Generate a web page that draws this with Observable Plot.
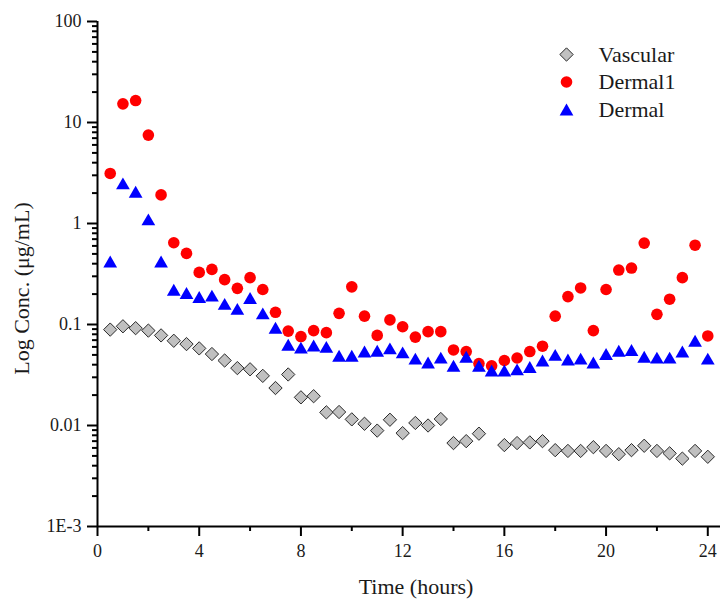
<!DOCTYPE html>
<html><head><meta charset="utf-8">
<script src="https://cdn.jsdelivr.net/npm/d3@7"></script>
<script src="https://cdn.jsdelivr.net/npm/@observablehq/plot@0.6"></script>
<style>body{margin:0;background:#fff} #chart{width:722px;height:599px}</style>
</head><body><div id="chart"></div>
<script>
const hours = [0.5,1,1.5,2,2.5,3,3.5,4,4.5,5,5.5,6,6.5,7,7.5,8,8.5,9,9.5,10,10.5,11,11.5,12,
               12.5,13,13.5,14,14.5,15,15.5,16,16.5,17,17.5,18,18.5,19,19.5,20,20.5,21,21.5,22,22.5,23,23.5,24];
const vascular = [0.089,0.096,0.092,0.087,0.078,0.069,0.064,0.058,0.051,0.044,0.037,0.036,0.031,0.0235,0.032,0.019,0.0195,0.0135,0.0136,0.0115,0.0104,0.0089,0.0114,0.0084,
                  0.0106,0.0100,0.0116,0.0067,0.0070,0.0083,null,0.0064,0.0067,0.0068,0.0070,0.0057,0.0056,0.0056,0.0061,0.0056,0.0052,0.0057,0.0063,0.0056,0.0053,0.0047,0.0056,0.0049];
const dermal1 = [3.13,15.3,16.5,7.5,1.92,0.645,0.506,0.328,0.351,0.278,0.228,0.291,0.222,0.132,0.086,0.076,0.087,0.083,0.129,0.236,0.121,0.078,0.111,0.095,
                 0.075,0.085,0.085,0.056,0.054,0.041,0.039,0.044,0.0466,0.054,0.061,0.121,0.189,0.230,0.087,0.222,0.346,0.362,0.64,0.126,0.178,0.291,0.61,0.077];
const dermal = [0.42,2.5,2.06,1.1,0.42,0.221,0.205,0.187,0.193,0.160,0.143,0.183,0.129,0.093,0.063,0.059,0.062,0.060,0.049,0.049,0.054,0.055,0.058,0.053,
                0.046,0.042,0.047,0.039,0.048,0.039,0.035,0.035,0.036,0.038,0.044,0.050,0.045,0.046,0.042,0.051,0.055,0.056,0.048,0.047,0.047,0.054,0.069,0.046];
const seriesNames = ["Vascular","Dermal1","Dermal"];
const xTicks = [0,4,8,12,16,20,24];
const xMinorTicks = [2,6,10,14,18,22];
const yTicks = [0.001,0.01,0.1,1,10,100];
const yTickLabels = ["1E-3","0.01","0.1","1","10","100"];
const xLabel = "Time (hours)";
const yLabel = "Log Conc. (\u03bcg/mL)";

const yMinorTicks = d3.scaleLog().domain([0.001,100]).ticks().filter(v => !yTicks.some(t => Math.abs(t - v) / t < 1e-9));
const rows = arr => hours.map((h, i) => ({hour: h, value: arr[i]})).filter(d => d.value != null);

const font = '"Liberation Serif","Times New Roman",serif';
const ink = "#1a1a1a";
const styles = [
  {symbol: "diamond2", r: 6, fill: "#c0c0c0", stroke: "#2a2a2a", strokeWidth: 1, dy: 0},
  {symbol: "circle", r: 5.8, fill: "#ff0000", stroke: "none", strokeWidth: 0, dy: 0},
  {symbol: "triangle", r: 5.1, fill: "#0000ff", stroke: "none", strokeWidth: 0, dy: 2}
];
const seriesData = [vascular, dermal1, dermal];

const legendMarks = seriesNames.flatMap((name, i) => [
  Plot.dot([name], {frameAnchor: "top-left", dx: 469, dy: 33 + 27.5 * i + styles[i].dy,
    symbol: styles[i].symbol, r: styles[i].r, fill: styles[i].fill, stroke: styles[i].stroke, strokeWidth: styles[i].strokeWidth}),
  Plot.text([name], {frameAnchor: "top-left", dx: 501, dy: 33 + 27.5 * i, text: d => d,
    textAnchor: "start", lineAnchor: "middle", fontSize: 22, fontFamily: font, fill: ink})
]);

const chart = Plot.plot({
  width: 722, height: 599,
  marginLeft: 97, marginRight: 2, marginTop: 21, marginBottom: 73,
  style: {fontFamily: font, background: "#fff", color: ink},
  x: {domain: [0, 24.5], axis: null},
  y: {type: "log", domain: [0.001, 100], axis: null},
  marks: [
    Plot.axisX(xTicks, {tickSize: 10, tickPadding: 8, strokeWidth: 2, stroke: "#000", fontSize: 18, fontFamily: font, label: null, tickFormat: d => String(d)}),
    Plot.axisX(xMinorTicks, {tickSize: 5, strokeWidth: 2, stroke: "#000", fill: "none", label: null}),
    Plot.axisY(yTicks, {tickSize: 10, tickPadding: 6, strokeWidth: 2, stroke: "#000", fontSize: 18, fontFamily: font, label: null,
      tickFormat: d => yTickLabels[yTicks.indexOf(d)]}),
    Plot.axisY(yMinorTicks, {tickSize: 5, strokeWidth: 2, stroke: "#000", fill: "none", label: null}),
    Plot.ruleX([0], {strokeWidth: 2, stroke: "#000"}),
    Plot.ruleY([0.001], {strokeWidth: 2, stroke: "#000"}),
    ...seriesData.map((arr, i) => Plot.dot(rows(arr), {x: "hour", y: "value",
      symbol: styles[i].symbol, r: styles[i].r, fill: styles[i].fill, stroke: styles[i].stroke,
      strokeWidth: styles[i].strokeWidth, dy: styles[i].dy})),
    ...legendMarks,
    Plot.text([xLabel], {frameAnchor: "bottom", dx: 7, dy: 67, text: d => d, textAnchor: "middle", lineAnchor: "bottom",
      fontSize: 22, fontFamily: font, fill: ink}),
    Plot.text([yLabel], {frameAnchor: "left", dx: -69, dy: 14.5, text: d => d, rotate: -90, textAnchor: "middle", lineAnchor: "bottom",
      fontSize: 22, fontFamily: font, fill: ink})
  ]
});
document.getElementById("chart").append(chart);
</script>
</body></html>
